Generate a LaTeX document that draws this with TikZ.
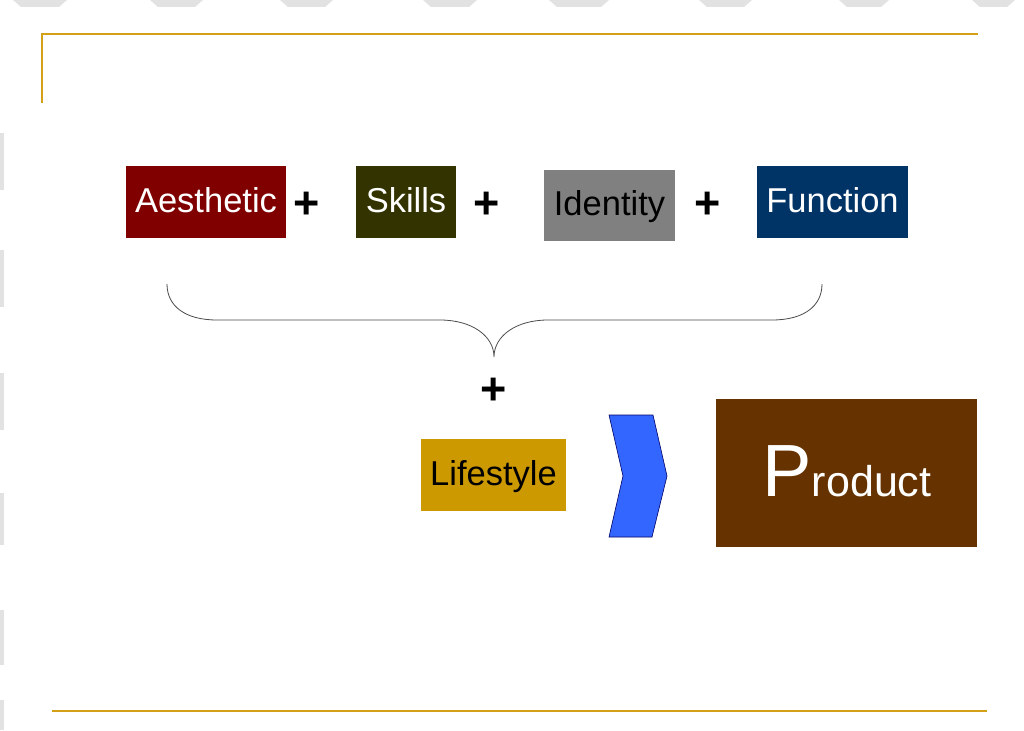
\documentclass[tikz,border=0pt]{standalone}
\usepackage{fontspec}
\setmainfont{Liberation Sans}
\definecolor{gold}{RGB}{212,160,23}
\definecolor{cAes}{HTML}{800000}
\definecolor{cSki}{HTML}{333300}
\definecolor{cIde}{HTML}{808080}
\definecolor{cFun}{HTML}{003366}
\definecolor{cLif}{HTML}{CC9900}
\definecolor{cPro}{HTML}{663300}
\definecolor{cChe}{HTML}{3366FF}
\definecolor{edgegray}{HTML}{E2E2E2}
\begin{document}
\begin{tikzpicture}[x=1pt,y=-1pt,
  box/.style={draw=none, inner sep=0pt, text height=24pt, text depth=4pt,
    font=\fontsize{34.5}{38}\selectfont},
  plus/.style={inner sep=0pt, font=\fontsize{45}{48}\selectfont\bfseries},
  rule/.style={draw=gold, line width=2.5pt},
  brace/.style={draw=black!70, line width=0.8pt},
  edge/.style={fill=edgegray, draw=none}]
\useasboundingbox (0,0) rectangle (1024,730);
\fill[white] (0,0) rectangle (1024,730);
% faint edge artifacts
\foreach \a/\b in {13/67,150/203,280/333,423/477,549/609,699/752,839/889,972/1015}
  \fill[edge] (\a,0) -- (\b,0) -- ({\b-8},7) -- ({\a+8},7) -- cycle;
\foreach \a/\b in {133/190,250/307,373/430,493/545,610/665,700/730}
  \fill[edge] (0,\a) rectangle (4,\b);
% gold rules
\draw[rule] (42,103) -- (42,34) -- (978,34);
\draw[rule] (52,711) -- (987,711);
% boxes
\node[box, fill=cAes, text=white, minimum width=160pt, minimum height=72pt] (aes) at (206,202) {Aesthetic};
\node[box, fill=cSki, text=white, minimum width=100pt, minimum height=72pt] (ski) at (406,202) {Skills};
\node[box, fill=cIde, text=black, minimum width=131pt, minimum height=71pt] (ide) at (609.5,205.5) {Identity};
\node[box, fill=cFun, text=white, minimum width=151pt, minimum height=72pt] (fun) at (832.5,202) {Function};
\node[box, fill=cLif, text=black, minimum width=145pt, minimum height=72pt] (lif) at (493.5,475) {Lifestyle};
\node[draw=none, fill=cPro, inner sep=0pt, minimum width=261pt, minimum height=148pt] (pro) at (846.5,473) {};
\node[anchor=base, inner sep=0pt, text=white] (protext) at (847,496)
  {\fontsize{74}{80}\selectfont P\fontsize{43}{48}\selectfont roduct};
% plus signs
\node[plus] (p1) at (307,205) {+};
\node[plus] (p2) at (487,205) {+};
\node[plus] (p3) at (708,205) {+};
\node[plus] (p4) at (494,391) {+};
% brace
\draw[brace] (167,284) .. controls (167,306) and (185,320) .. (217,320)
  -- (440,320) .. controls (472,320) and (494,336) .. (494,357)
  .. controls (494,336) and (516,320) .. (548,320)
  -- (772,320) .. controls (804,320) and (822,306) .. (822,284);
% chevron
\draw[fill=cChe, draw=black!60!blue, line width=0.6pt]
  (609,415) -- (653,415) -- (667,476) -- (652,537) -- (609,537) -- (623,476) -- cycle;
\end{tikzpicture}
\end{document}
